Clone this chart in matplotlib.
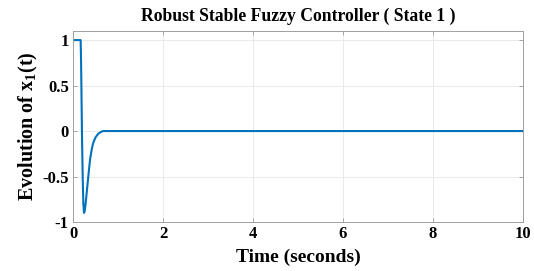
import matplotlib
matplotlib.use("Agg")
import matplotlib.pyplot as plt

t = [0.0, 0.17, 0.18, 0.19, 0.20, 0.215, 0.23, 0.245, 0.26, 0.28, 0.30, 0.32,
     0.35, 0.38, 0.42, 0.45, 0.50, 0.56, 0.62, 0.67, 10.0]
x1 = [1.0, 1.0, 0.75, 0.35, -0.05, -0.50, -0.80, -0.90, -0.88, -0.80, -0.70, -0.60,
      -0.45, -0.31, -0.19, -0.13, -0.07, -0.03, -0.01, 0.0, 0.0]

xticks = [0, 2, 4, 6, 8, 10]
yticks = [-1, -0.5, 0, 0.5, 1]
yticklabels = ["-1", "-0.5", "0", "0.5", "1"]

plt.rcParams["font.family"] = "Liberation Serif"
plt.rcParams["font.weight"] = "bold"
plt.rcParams["mathtext.fontset"] = "custom"
plt.rcParams["mathtext.rm"] = "Liberation Serif:bold"
plt.rcParams["mathtext.it"] = "Liberation Serif:bold"

fig = plt.figure(figsize=(5.34, 2.71), dpi=100)
ax = fig.add_axes([73 / 534, 1 - 222 / 271, 450 / 534, 191 / 271])

ax.plot(t, x1, color="#0072BD", linewidth=1.5)

ax.set_xlim(0, 10)
ax.set_ylim(-1, 1.1)
ax.set_xticks(xticks)
ax.set_xticklabels([str(v) for v in xticks])
ax.set_yticks(yticks)
ax.set_yticklabels(yticklabels)
ax.tick_params(direction="in", top=True, right=True, length=3, width=0.6,
               color="#999999", labelsize=12, pad=3)
for lab in ax.get_xticklabels() + ax.get_yticklabels():
    lab.set_fontweight("bold")
for s in ax.spines.values():
    s.set_color("#a0a0a0")
    s.set_linewidth(0.7)
ax.grid(True, color="#e6e6e6", linewidth=0.6)
ax.set_axisbelow(True)

ax.set_title("Robust Stable Fuzzy Controller ( State 1 )", fontsize=12.7,
             fontweight="bold", pad=7)
ax.set_xlabel("Time (seconds)", fontsize=14, fontweight="bold", labelpad=5)
ax.set_ylabel(r"Evolution of x$_{\mathrm{1}}$(t)", fontsize=14.5, fontweight="bold", labelpad=2)

fig.savefig("out.png", dpi=100)
